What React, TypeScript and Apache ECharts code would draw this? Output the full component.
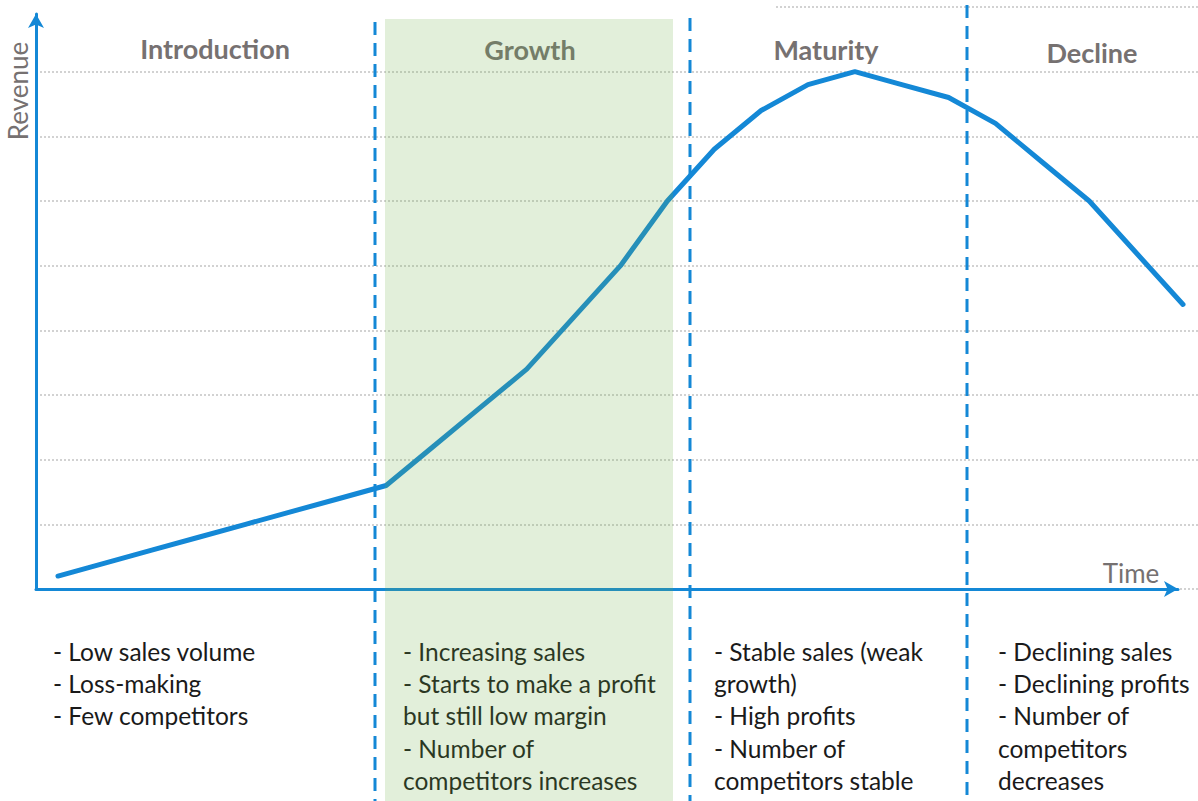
import React, { useEffect, useRef } from "react";
import * as echarts from "echarts";

// Revenue over time (one value per time step)
const revenue = [
  0.2, 0.4, 0.6, 0.8, 1.0, 1.2, 1.4, 1.6, 2.2, 2.8, 3.4, 4.2, 5.0,
  6.0, 6.8, 7.4, 7.8, 8.0, 7.8, 7.6, 7.2, 6.6, 6.0, 5.2, 4.4,
];

const phases = ["Introduction", "Growth", "Maturity", "Decline"];

const phaseNotes: string[][] = [
  ["- Low sales volume", "- Loss-making", "- Few competitors"],
  [
    "- Increasing sales",
    "- Starts to make a profit",
    "but still low margin",
    "- Number of",
    "competitors increases",
  ],
  [
    "- Stable sales (weak",
    "growth)",
    "- High profits",
    "- Number of",
    "competitors stable",
  ],
  [
    "- Declining sales",
    "- Declining profits",
    "- Number of",
    "competitors",
    "decreases",
  ],
];

const yAxisTitle = "Revenue";
const xAxisTitle = "Time";

const BLUE = "#1488D6";
const GRAY = "#767171";
const FONT = "Lato, 'Open Sans', sans-serif";

export default function App() {
  const ref = useRef<HTMLDivElement>(null);

  useEffect(() => {
    if (!ref.current) return;
    const chart = echarts.init(ref.current, null, { renderer: "svg" });

    const headPos = [
      [215, 48],
      [530, 49.5],
      [826, 49.5],
      [1092, 52],
    ];
    const noteX = [53, 403, 714, 998];
    const noteY0 = 651;
    const noteDy = 32.4;

    const graphics: any[] = [];
    // hide the top grid line on the left part
    graphics.push({
      type: "rect",
      shape: { x: 0, y: 0, width: 776, height: 11 },
      style: { fill: "#ffffff" },
      z: 5,
    });
    phases.forEach((p, i) => {
      graphics.push({
        type: "text",
        x: headPos[i][0],
        y: headPos[i][1],
        z: 40,
        style: {
          text: p,
          fill: GRAY,
          font: `bold 27px ${FONT}`,
          align: "center",
          verticalAlign: "middle",
        },
      });
      phaseNotes[i].forEach((line, k) => {
        graphics.push({
          type: "text",
          x: noteX[i],
          y: noteY0 + k * noteDy,
          z: 40,
          style: {
            text: line,
            fill: "#1a1a1a",
            font: `24.5px ${FONT}`,
            align: "left",
            verticalAlign: "middle",
          },
        });
      });
    });
    graphics.push({
      type: "text",
      x: 18,
      y: 91,
      rotation: Math.PI / 2,
      z: 40,
      style: {
        text: yAxisTitle,
        fill: GRAY,
        font: `26px ${FONT}`,
        align: "center",
        verticalAlign: "middle",
      },
    });
    graphics.push({
      type: "text",
      x: 1131,
      y: 573,
      z: 40,
      style: {
        text: xAxisTitle,
        fill: GRAY,
        font: `26px ${FONT}`,
        align: "center",
        verticalAlign: "middle",
      },
    });
    // growth band (translucent, on top)
    graphics.push({
      type: "rect",
      shape: { x: 385, y: 19, width: 288, height: 782 },
      style: { fill: "rgba(112,173,71,0.2)" },
      z: 50,
    });
    // dashed phase separators
    [
      [375, 22],
      [690, 18],
      [967, 5],
    ].forEach(([x, y0]) => {
      graphics.push({
        type: "line",
        shape: { x1: x, y1: y0, x2: x, y2: 801 },
        style: { stroke: BLUE, lineWidth: 3, lineDash: [13, 8] },
        z: 60,
      });
    });

    chart.setOption({
      animation: false,
      backgroundColor: "#ffffff",
      grid: [
        { left: 36, right: 0, top: 7, bottom: 212 },
        { left: 36, right: 20, top: 14, bottom: 212 },
      ],
      xAxis: [
        {
          type: "value",
          gridIndex: 0,
          min: -0.469,
          max: 24.32,
          show: false,
          splitLine: { show: false },
        },
        {
          type: "value",
          gridIndex: 1,
          min: 0,
          max: 1,
          axisLine: {
            show: true,
            onZero: false,
            symbol: ["none", "arrow"],
            symbolSize: [12, 14],
            lineStyle: { color: BLUE, width: 3 },
          },
          axisTick: { show: false },
          axisLabel: { show: false },
          splitLine: { show: false },
        },
      ],
      yAxis: [
        {
          type: "value",
          gridIndex: 0,
          min: 0,
          max: 9,
          interval: 1,
          axisLine: { show: false },
          axisTick: { show: false },
          axisLabel: { show: false },
          splitLine: {
            show: true,
            lineStyle: { color: "#c4c4c4", width: 1.5, type: [2, 2] },
          },
        },
        {
          type: "value",
          gridIndex: 1,
          min: 0,
          max: 1,
          axisLine: {
            show: true,
            onZero: false,
            symbol: ["none", "arrow"],
            symbolSize: [12, 14],
            lineStyle: { color: BLUE, width: 3 },
          },
          axisTick: { show: false },
          axisLabel: { show: false },
          splitLine: { show: false },
        },
      ],
      series: [
        {
          type: "line",
          xAxisIndex: 0,
          yAxisIndex: 0,
          data: revenue.map((v, i) => [i, v]),
          showSymbol: false,
          symbol: "none",
          lineStyle: { color: BLUE, width: 5, cap: "round", join: "round" },
          z: 10,
        },
      ],
      graphic: graphics,
    });

    return () => chart.dispose();
  }, []);

  return (
    <div
      ref={ref}
      style={{ position: "fixed", left: 0, top: 0, width: 1198, height: 801 }}
    />
  );
}
